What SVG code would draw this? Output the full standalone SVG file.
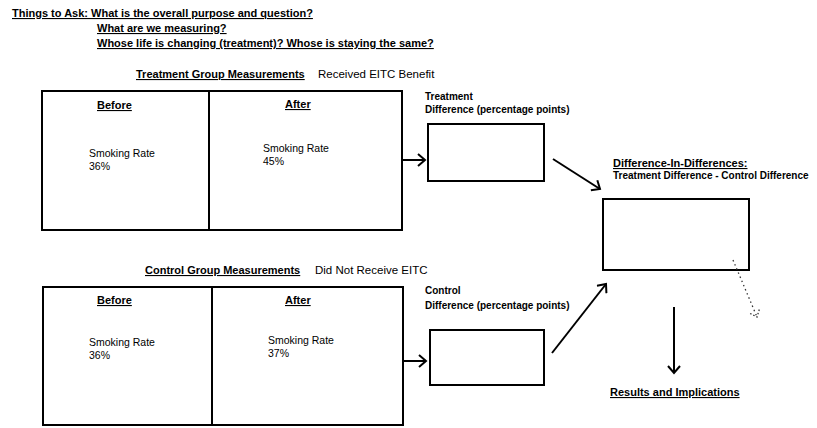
<svg xmlns="http://www.w3.org/2000/svg" width="817" height="428" viewBox="0 0 817 428">
<style>
text{font-family:"Liberation Sans",Arial,sans-serif;fill:#000}
.h{font-weight:bold;font-size:11px;text-decoration:underline}
.b{font-weight:bold;font-size:10px}
.r{font-size:11.5px}
.s{font-size:10.5px}
.box{fill:#fff;stroke:#000;stroke-width:2}
.con{fill:none;stroke:#000;stroke-width:2}
.dot{fill:none;stroke:#333;stroke-width:1.3;stroke-dasharray:1.5 3}
</style>
<defs>
<marker id="ah" markerUnits="userSpaceOnUse" markerWidth="12" markerHeight="14" refX="9" refY="7" orient="auto">
<path d="M2,1 L9,7 L2,13" fill="none" stroke="#000" stroke-width="2"/>
</marker>
<marker id="ahd" markerUnits="userSpaceOnUse" markerWidth="12" markerHeight="14" refX="9" refY="7" orient="auto">
<path d="M3,2 L9,7 L3,12" fill="none" stroke="#333" stroke-width="1.3" stroke-dasharray="1.5 2"/>
</marker>
</defs>
<rect width="817" height="428" fill="#fff"/>
<g id="questions">
<text class="h" x="12" y="17">Things to Ask: What is the overall purpose and question?</text>
<text class="h" x="97" y="32">What are we measuring?</text>
<text class="h" x="97" y="47">Whose life is changing (treatment)? Whose is staying the same?</text>
</g>
<g id="treatment-group">
<text class="h" x="136" y="78">Treatment Group Measurements</text>
<text class="r" x="318" y="78">Received EITC Benefit</text>
<rect class="box" x="42" y="91" width="360" height="139"/>
<line x1="209" y1="91" x2="209" y2="230" stroke="#000" stroke-width="2"/>
<text class="h" x="97" y="109">Before</text>
<text class="h" x="285" y="108">After</text>
<text class="s" x="89" y="157">Smoking Rate</text>
<text class="s" x="89" y="170">36%</text>
<text class="s" x="263" y="152">Smoking Rate</text>
<text class="s" x="263" y="165">45%</text>
</g>
<g id="treatment-difference">
<text class="b" x="425" y="100">Treatment</text>
<text class="b" x="425" y="113">Difference (percentage points)</text>
<rect class="box" x="428" y="124" width="116" height="57"/>
</g>
<g id="control-group">
<text class="h" x="145" y="274">Control Group Measurements</text>
<text class="r" x="315" y="274">Did Not Receive EITC</text>
<rect class="box" x="43" y="287" width="360" height="138"/>
<line x1="212" y1="287" x2="212" y2="425" stroke="#000" stroke-width="2"/>
<text class="h" x="97" y="304">Before</text>
<text class="h" x="285" y="304">After</text>
<text class="s" x="89" y="346">Smoking Rate</text>
<text class="s" x="89" y="359">36%</text>
<text class="s" x="268" y="344">Smoking Rate</text>
<text class="s" x="268" y="357">37%</text>
</g>
<g id="control-difference">
<text class="b" x="425" y="294">Control</text>
<text class="b" x="425" y="309">Difference (percentage points)</text>
<rect class="box" x="430" y="330" width="114" height="55"/>
</g>
<g id="did">
<text class="h" x="613" y="167">Difference-In-Differences:</text>
<text class="b" x="613" y="179">Treatment Difference - Control Difference</text>
<rect class="box" x="603" y="199" width="146" height="71"/>
</g>
<g id="results">
<text class="h" x="610" y="396">Results and Implications</text>
</g>
<g id="connectors">
<line class="con" x1="403" y1="160" x2="425" y2="160" marker-end="url(#ah)"/>
<line class="con" x1="404" y1="361" x2="426" y2="361" marker-end="url(#ah)"/>
<line class="con" x1="553" y1="159" x2="600" y2="189" marker-end="url(#ah)"/>
<line class="con" x1="552" y1="353" x2="606" y2="284" marker-end="url(#ah)"/>
<line class="con" x1="674" y1="307" x2="674" y2="373" marker-end="url(#ah)"/>
<line class="dot" x1="733" y1="260" x2="757" y2="317" marker-end="url(#ahd)"/>
</g>
</svg>
